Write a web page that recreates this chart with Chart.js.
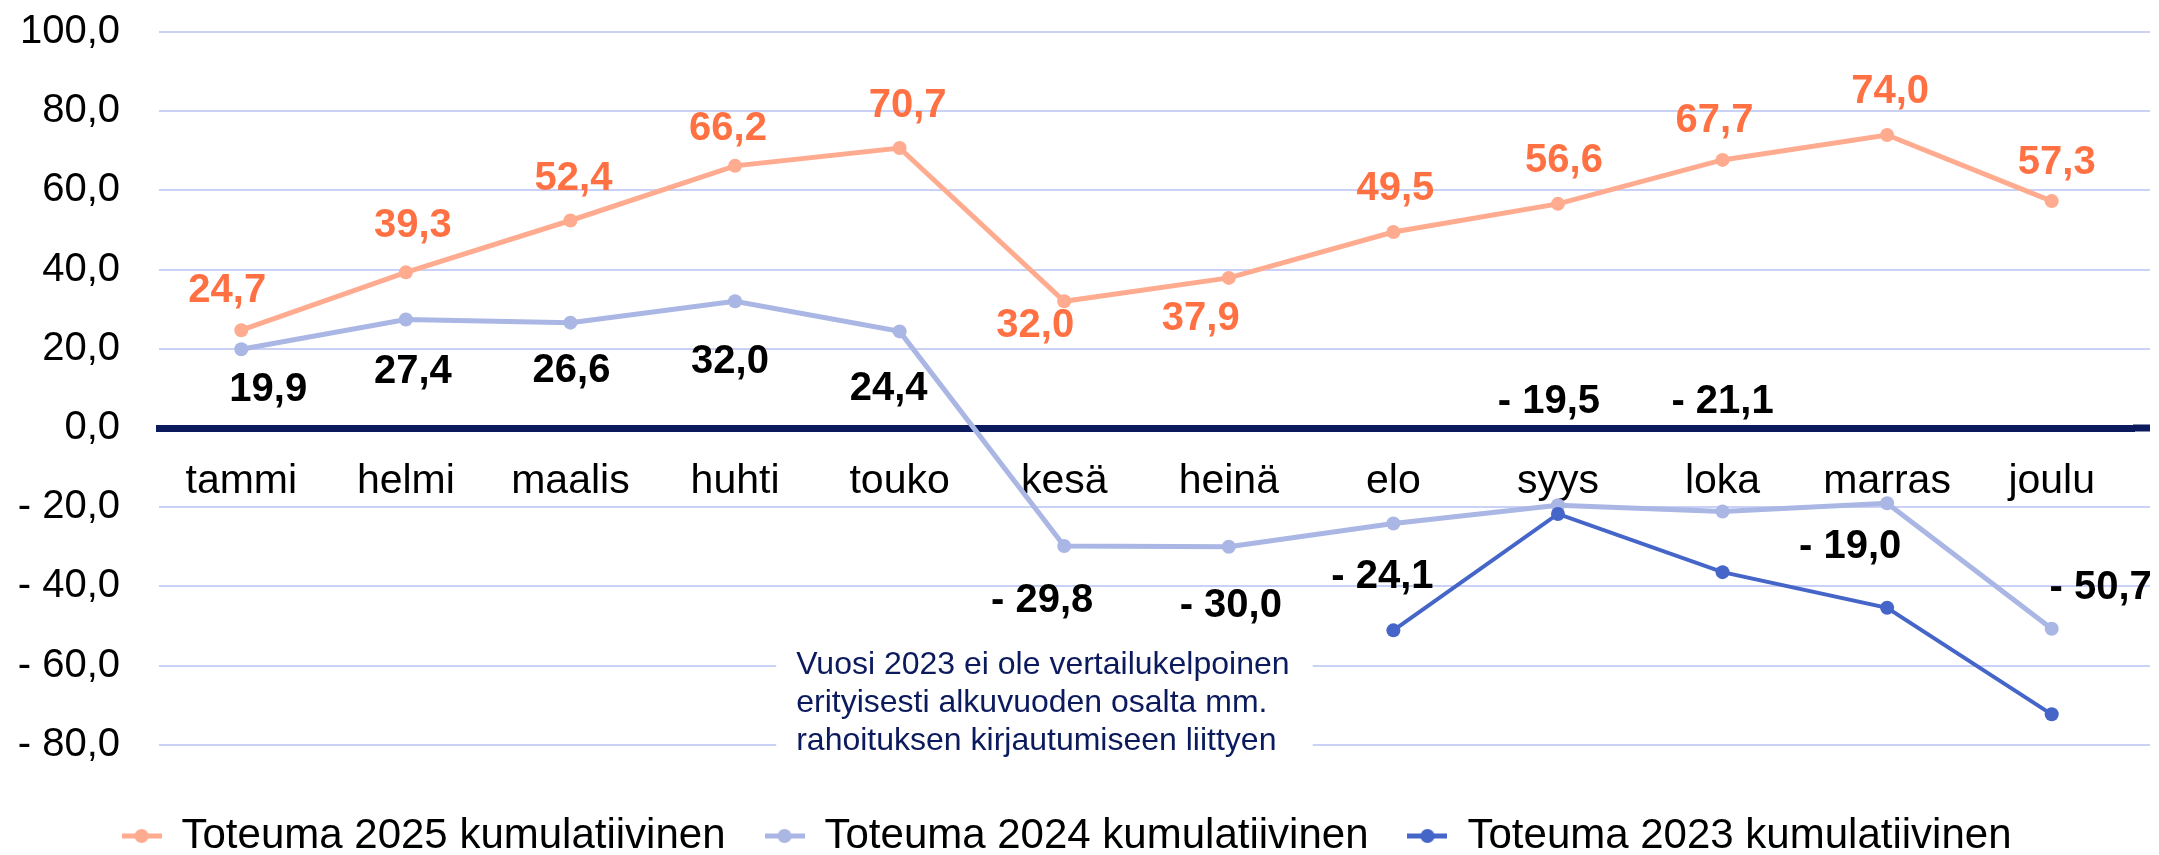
<!DOCTYPE html>
<html>
<head>
<meta charset="utf-8">
<script src="https://cdn.jsdelivr.net/npm/chart.js@4/dist/chart.umd.min.js"></script>
<style>
  html, body { margin: 0; padding: 0; background: #fff; }
  #wrap { width: 2159px; height: 855px; }
</style>
</head>
<body>
<div id="wrap"><canvas id="chart"></canvas></div>
<script>
const months = ["tammi", "helmi", "maalis", "huhti", "touko", "kesä", "heinä", "elo", "syys", "loka", "marras", "joulu"];
const toteuma2025 = [24.7, 39.3, 52.4, 66.2, 70.7, 32.0, 37.9, 49.5, 56.6, 67.7, 74.0, 57.3];
const toteuma2024 = [19.9, 27.4, 26.6, 32.0, 24.4, -29.8, -30.0, -24.1, -19.5, -21.1, -19.0, -50.7];
const toteuma2023 = [null, null, null, null, null, null, null, -51.1, -21.7, -36.4, -45.4, -72.3];
const yTicks = [100, 80, 60, 40, 20, 0, -20, -40, -60, -80];
const noteLines = [
  "Vuosi 2023 ei ole vertailukelpoinen",
  "erityisesti alkuvuoden osalta mm.",
  "rahoituksen kirjautumiseen liittyen"
];

// label offsets from the point, px (dx, dy)
const off2025 = [[-14, -39], [7, -46], [3, -42], [-7, -37], [8, -42], [-29, 25], [-28, 41], [2, -43], [6, -43], [-8, -39], [3, -43], [5, -38]];
const off2024 = [[27, 41], [7, 52], [1, 48], [-5, 61], [-11, 58], [-22, 55], [2, 59], [-11, 54], [-9, -103], [0, -110], [-37, 44], [49, -41]];

const FONT = "'Liberation Sans', Arial, sans-serif";
const C25 = "#ffab8f", C25L = "#ff7043", C24 = "#aab6e4", C23 = "#4566c8";
const NAVY = "#0b1a5c", GRID = "#c9d1f6";

function fmt(v) {
  const s = Math.abs(v).toFixed(1).replace(".", ",");
  return v < 0 ? "- " + s : s;
}

function marker(color) {
  const c = document.createElement("canvas");
  c.width = 40; c.height = 16;
  const g = c.getContext("2d");
  g.strokeStyle = color; g.lineWidth = 5;
  g.beginPath(); g.moveTo(0, 8); g.lineTo(40, 8); g.stroke();
  g.fillStyle = color;
  g.beginPath(); g.arc(20, 8, 7, 0, Math.PI * 2); g.fill();
  return c;
}
const markers = [marker(C25), marker(C24), marker(C23)];

// gridlines and zero line run a bit past the last category
const gridTail = {
  id: "gridTail",
  beforeDatasetsDraw(ch) {
    const { ctx, chartArea: a, scales: { y } } = ch;
    ctx.save();
    y.ticks.forEach(t => {
      const py = Math.round(y.getPixelForValue(t.value));
      ctx.strokeStyle = t.value === 0 ? NAVY : GRID;
      ctx.lineWidth = t.value === 0 ? 7 : 2;
      ctx.beginPath(); ctx.moveTo(a.right - 1, py); ctx.lineTo(a.right + 16, py); ctx.stroke();
    });
    ctx.restore();
  }
};

const notePlugin = {
  id: "note",
  beforeDatasetsDraw(ch) {
    const { ctx, scales: { x, y } } = ch;
    const left = x.getPixelForValue(3.25), right = x.getPixelForValue(6.51);
    const top = y.getPixelForValue(-51.4), bottom = y.getPixelForValue(-86);
    ctx.save();
    ctx.fillStyle = "#fff";
    ctx.fillRect(left, top, right - left, bottom - top);
    ctx.fillStyle = NAVY;
    ctx.font = "32px " + FONT;
    ctx.textAlign = "left";
    ctx.textBaseline = "middle";
    noteLines.forEach((t, i) => ctx.fillText(t, left + 20, top + 34 + i * 38));
    ctx.restore();
  }
};

const labelPlugin = {
  id: "valueLabels",
  afterDatasetsDraw(ch) {
    const ctx = ch.ctx;
    ctx.save();
    ctx.font = "bold 40px " + FONT;
    ctx.textAlign = "center";
    ctx.textBaseline = "middle";
    [[0, off2025, C25L], [1, off2024, "#000"]].forEach(([di, offs, col]) => {
      const meta = ch.getDatasetMeta(di);
      const data = ch.data.datasets[di].data;
      ctx.fillStyle = col;
      meta.data.forEach((pt, j) => {
        if (data[j] == null) return;
        ctx.fillText(fmt(data[j]), pt.x + offs[j][0], pt.y + offs[j][1]);
      });
    });
    ctx.restore();
  }
};

function series(label, data, color, width, order) {
  return {
    label, data, order,
    borderColor: color, backgroundColor: color,
    pointBackgroundColor: color, pointBorderColor: color,
    borderWidth: width, pointRadius: 7, pointBorderWidth: 0,
    tension: 0
  };
}

new Chart(document.getElementById("chart"), {
  type: "line",
  data: {
    labels: months,
    datasets: [
      series("Toteuma 2025 kumulatiivinen", toteuma2025, C25, 5, 3),
      series("Toteuma 2024 kumulatiivinen", toteuma2024, C24, 5, 2),
      series("Toteuma 2023 kumulatiivinen", toteuma2023, C23, 4, 1)
    ]
  },
  options: {
    responsive: true,
    maintainAspectRatio: false,
    animation: false,
    layout: { padding: { top: 32, right: 25, bottom: -12, left: 0 } },
    scales: {
      x: {
        offset: true,
        position: { y: 0 },
        afterFit: s => { s.paddingTop = 0; s.paddingBottom = 0; },
        grid: { display: false },
        border: { color: NAVY, width: 7 },
        ticks: {
          color: "#000", font: { family: FONT, size: 41 },
          padding: 21, maxRotation: 0, autoSkip: false
        }
      },
      y: {
        min: -80, max: 100,
        afterFit: s => { s.width = 159; s.paddingTop = 0; s.paddingBottom = 0; },
        afterBuildTicks: s => { s.ticks = yTicks.map(v => ({ value: v })); },
        grid: { color: GRID, lineWidth: 2, drawTicks: false },
        border: { display: false },
        ticks: {
          color: "#000", font: { family: FONT, size: 40 },
          padding: 39, callback: v => fmt(v)
        }
      }
    },
    plugins: {
      legend: {
        position: "bottom",
        title: { display: true, text: "", padding: { top: 29, bottom: 0 }, font: { size: 1 } },
        labels: {
          usePointStyle: true, pointStyleWidth: 38, padding: 40,
          color: "#000", font: { family: FONT, size: 42 },
          sort: (a, b) => a.datasetIndex - b.datasetIndex,
          generateLabels: ch => {
            const items = Chart.defaults.plugins.legend.labels.generateLabels(ch);
            items.forEach(it => { it.pointStyle = markers[it.datasetIndex]; });
            return items;
          }
        }
      },
      tooltip: { enabled: false }
    }
  },
  plugins: [gridTail, notePlugin, labelPlugin]
});
</script>
</body>
</html>
